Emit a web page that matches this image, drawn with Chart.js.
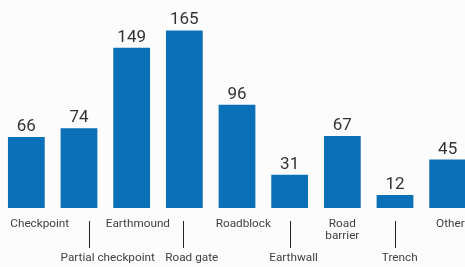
<!DOCTYPE html>
<html>
<head>
<meta charset="utf-8">
<script src="https://cdn.jsdelivr.net/npm/chart.js@4"></script>
<style>
  html, body { margin: 0; padding: 0; background: #fcfcfc; overflow: hidden; }
  #wrap { width: 465px; height: 267px; position: relative; overflow: hidden; }
</style>
</head>
<body>
<div id="wrap"><canvas id="c" width="474" height="267"></canvas></div>
<script>
// data
const categories = ['Checkpoint', 'Partial checkpoint', 'Earthmound', 'Road gate', 'Roadblock', 'Earthwall', ['Road', 'barrier'], 'Trench', 'Other'];
const counts = [66, 74, 149, 165, 96, 31, 67, 12, 45];

// layout (pixel nudges of category labels / leader ticks relative to each bar centre)
const labelNudge = [13.4, 28.7, 6.2, 7.4, 6.3, 3.9, 0, 4.7, 2.7];
const tickNudge = [0, 10, 0, -1.3, 0, 0, 0, 0, 0];

const valueLabels = {
  id: 'valueLabels',
  afterDatasetsDraw(chart) {
    const ctx = chart.ctx;
    const meta = chart.getDatasetMeta(0);
    ctx.save();
    ctx.font = '17px Roboto';
    ctx.fillStyle = '#333333';
    ctx.textAlign = 'center';
    ctx.textBaseline = 'alphabetic';
    meta.data.forEach((bar, i) => {
      ctx.fillText(String(counts[i]), bar.x, bar.y - 6);
    });
    ctx.restore();
  }
};

const categoryLabels = {
  id: 'categoryLabels',
  afterDraw(chart) {
    const ctx = chart.ctx;
    const x = chart.scales.x;
    const base = chart.chartArea.bottom;
    ctx.save();
    ctx.strokeStyle = '#222222';
    ctx.lineWidth = 1;
    ctx.font = '11.75px Roboto';
    ctx.fillStyle = '#3f3f3f';
    ctx.textAlign = 'center';
    ctx.textBaseline = 'alphabetic';
    categories.forEach((c, i) => {
      const cx = x.getPixelForValue(i);
      const lines = Array.isArray(c) ? c : [c];
      const lower = i % 2 === 1;
      if (lower) {
        const px = Math.round(cx + tickNudge[i]) + 0.5;
        ctx.beginPath();
        ctx.moveTo(px, base + 13);
        ctx.lineTo(px, base + 40);
        ctx.stroke();
      }
      const y0 = base + (lower ? 52.7 : 18.7);
      lines.forEach((ln, k) => {
        ctx.fillText(ln, cx + labelNudge[i], y0 + k * 12);
      });
    });
    ctx.restore();
  }
};

new Chart(document.getElementById('c'), {
  type: 'bar',
  data: {
    labels: categories,
    datasets: [{
      data: counts,
      backgroundColor: '#0a70b8',
      borderWidth: 0,
      categoryPercentage: 1,
      barPercentage: 0.698
    }]
  },
  options: {
    responsive: false,
    animation: false,
    devicePixelRatio: 1,
    layout: { padding: { left: 0, right: 0, top: 10, bottom: 59 } },
    plugins: { legend: { display: false }, tooltip: { enabled: false } },
    scales: {
      x: {
        display: false,
        grid: { display: false }
      },
      y: {
        display: false,
        min: 0,
        max: 184
      }
    }
  },
  plugins: [valueLabels, categoryLabels]
});
</script>
</body>
</html>
